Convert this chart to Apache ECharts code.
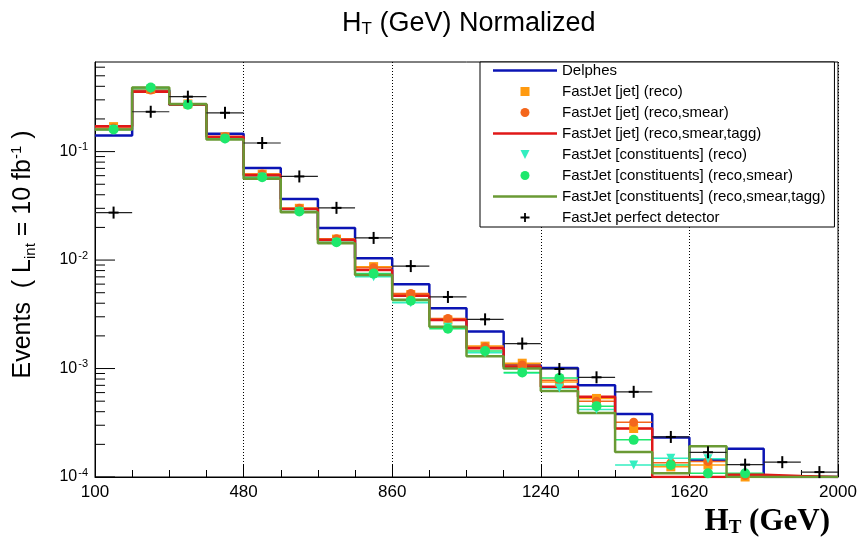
<!DOCTYPE html>
<html>
<head>
<meta charset="utf-8">
<script src="https://cdn.jsdelivr.net/npm/echarts@6/dist/echarts.min.js"></script>
<style>
  html, body { margin: 0; padding: 0; background: #fff; }
  #chart { width: 864px; height: 546px; }
</style>
</head>
<body>
<div id="chart"></div>
<script>
// bin edges of the H_T histogram (20 bins of 95 GeV)
const binEdges = [100, 195, 290, 385, 480, 575, 670, 765, 860, 955, 1050,
  1145, 1240, 1335, 1430, 1525, 1620, 1715, 1810, 1905, 2000];

// values, one per bin (null = not drawn / below 1e-4)
const delphes = [0.141, 0.37, 0.27, 0.146, 0.0706, 0.0365, 0.0198, 0.0104, 0.0060, 0.0036,
  0.0022, 0.00107, 0.00101, 0.00070, 0.00038, 0.000231, 0.000144, 0.000182, 0.0001, 0.0001];
const jetReco = [0.17, 0.375, 0.275, 0.137, 0.062, 0.030, 0.0156, 0.0087, 0.0048, 0.0028,
  0.00161, 0.00112, 0.00075, 0.00053, 0.00028, 0.000124, 0.000129, 0.0001, null, null];
const jetSmear = [0.165, 0.37, 0.275, 0.137, 0.062, 0.030, 0.0157, 0.0085, 0.00492, 0.0029,
  0.00158, 0.00108, 0.00078, 0.0005, 0.00032, 0.000135, 0.000139, 0.000103, null, null];
const jetTagg = [0.171, 0.357, 0.272, 0.137, 0.0604, 0.0296, 0.0153, 0.0081, 0.00468, 0.0028,
  0.00154, 0.00104, 0.00068, 0.00055, 0.00028, 0.0001, 0.0001, 0.000105, 0.000102, 0.0001];
const consReco = [0.16, 0.38, 0.27, 0.13, 0.058, 0.028, 0.0145, 0.0070, 0.00405, 0.0024,
  0.0014, 0.00091, 0.00066, 0.00042, 0.000129, 0.000149, 0.000147, null, null, null];
const consSmear = [0.16, 0.39, 0.27, 0.132, 0.058, 0.028, 0.0146, 0.0075, 0.00421, 0.00233,
  0.00145, 0.00092, 0.00082, 0.00045, 0.00022, 0.000129, 0.000108, 0.000108, null, null];
const consTagg = [0.16, 0.39, 0.274, 0.129, 0.0563, 0.0276, 0.0143, 0.0073, 0.0043, 0.00243,
  0.0013, 0.00100, 0.00062, 0.00039, 0.00017, 0.000108, 0.000192, 0.0001, 0.0001, 0.0001];
const perfect = [0.0274, 0.233, 0.321, 0.228, 0.120, 0.059, 0.0303, 0.016, 0.0088, 0.00457,
  0.00284, 0.0017, 0.00099, 0.00083, 0.00061, 0.000234, 0.000169, 0.00013, 0.000137, 0.000111];

const xLabels = [100, 480, 860, 1240, 1620, 2000];
const yDecades = [0.0001, 0.001, 0.01, 0.1];

const FONT = 'Liberation Sans';
const yMin = 0.0001;
const yMax = 0.67;

// minor ticks of the log axis: 2..9 x 10^n
const yMinor = [];
yDecades.forEach((d) => {
  for (let k = 2; k <= 9; k++) {
    if (k * d < yMax) yMinor.push(+(k * d).toPrecision(3));
  }
});

// histogram outline: two points per bin
const stepData = (vals) => {
  const out = [];
  vals.forEach((v, i) => {
    if (v == null) return;
    out.push([binEdges[i], v], [binEdges[i + 1], v]);
  });
  return out;
};
const centerData = (vals) => vals
  .map((v, i) => (v == null ? null : [(binEdges[i] + binEdges[i + 1]) / 2, v]))
  .filter((d) => d);
const barData = (vals) => vals
  .map((v, i) => (v == null ? null : [binEdges[i], binEdges[i + 1], v]))
  .filter((d) => d);

const lineSeries = (name, vals, color, z) => ({
  name,
  type: 'line',
  data: stepData(vals),
  symbol: 'none',
  z,
  itemStyle: { color },
  lineStyle: { color, width: 2.5 },
});

// horizontal error bar across the bin (ROOT "E" style)
const hbarSeries = (name, vals, color, z) => ({
  name,
  type: 'custom',
  data: barData(vals),
  encode: { x: [0, 1], y: 2 },
  z,
  itemStyle: { color },
  renderItem: (params, api) => {
    const a = api.coord([api.value(0), api.value(2)]);
    const b = api.coord([api.value(1), api.value(2)]);
    return {
      type: 'line',
      shape: { x1: a[0], y1: a[1], x2: b[0], y2: b[1] },
      style: { stroke: color, lineWidth: 1.5 },
    };
  },
});

const markerSeries = (name, vals, color, symbol, size, z) => ({
  name,
  type: 'scatter',
  data: centerData(vals),
  symbol,
  symbolSize: size,
  z,
  itemStyle: { color, opacity: 1 },
});

const squarePath = 'path://M0,0h10v10h-10z';
const triDownPath = 'path://M0,0L10,0L5,10z';
const linePath = 'path://M0,0h64v2.5h-64z';
const plusPath = 'path://M4,0h2v4h4v2h-4v4h-2v-4h-4v-2h4z';

const C = {
  delphes: '#0b14b4',
  jetReco: '#ff9a10',
  jetSmear: '#f4661c',
  jetTagg: '#e01818',
  consReco: '#33eec0',
  consSmear: '#1ee86c',
  consTagg: '#6a9a34',
};

const chart = echarts.init(document.getElementById('chart'));

const option = {
  animation: false,
  backgroundColor: '#fff',
  title: {
    text: '{n|H}{s|T}{n| (GeV) Normalized}',
    left: 337,
    top: 4,
    textStyle: {
      rich: {
        n: { fontFamily: FONT, fontWeight: 'normal', fontSize: 27, color: '#000' },
        s: { fontFamily: FONT, fontWeight: 'normal', fontSize: 17, color: '#000', padding: [12, 0, 0, 0] },
      },
    },
  },
  grid: {
    left: 95,
    right: 26,
    top: 62,
    bottom: 69,
    show: true,
    borderColor: '#000',
    borderWidth: 1,
  },
  legend: {
    orient: 'vertical',
    left: 480,
    top: 62,
    padding: [1, 9, 2, 13],
    backgroundColor: '#fff',
    borderColor: '#000',
    borderWidth: 1,
    itemWidth: 64,
    itemHeight: 9,
    itemGap: 6,
    itemTextGap: 11,
    selectedMode: false,
    textStyle: { fontFamily: FONT, fontSize: 15, color: '#000', lineHeight: 15 },
    data: [
      { name: 'Delphes', icon: linePath },
      { name: 'FastJet [jet] (reco)', icon: squarePath },
      { name: 'FastJet [jet] (reco,smear)', icon: 'circle' },
      { name: 'FastJet [jet] (reco,smear,tagg)', icon: linePath },
      { name: 'FastJet [constituents] (reco)', icon: triDownPath },
      { name: 'FastJet [constituents] (reco,smear)', icon: 'circle' },
      { name: 'FastJet [constituents] (reco,smear,tagg)', icon: linePath },
      { name: 'FastJet perfect detector', icon: plusPath },
    ],
  },
  xAxis: {
    type: 'value',
    min: 100,
    max: 2000,
    interval: 380,
    name: '{b|H}{s|T}{b| (GeV)}',
    nameLocation: 'end',
    nameGap: -8,
    nameTextStyle: {
      align: 'right',
      verticalAlign: 'top',
      padding: [28, 0, 0, 0],
      rich: {
        b: { fontFamily: 'Liberation Serif', fontWeight: 'bold', fontSize: 31, color: '#000' },
        s: { fontFamily: 'Liberation Serif', fontWeight: 'bold', fontSize: 19, color: '#000', padding: [14, 0, 0, 0] },
      },
    },
    axisLine: { show: true, lineStyle: { color: '#000', width: 1 } },
    axisTick: { show: true, inside: true, length: 13, lineStyle: { color: '#000', width: 1 } },
    minorTick: { show: true, splitNumber: 4, length: 7, lineStyle: { color: '#000', width: 1 } },
    axisLabel: {
      margin: 7,
      fontFamily: FONT,
      fontSize: 17,
      color: '#000',
      formatter: (v) => (xLabels.includes(v) ? String(v) : ''),
    },
    splitLine: { show: true, lineStyle: { color: '#000', width: 1, type: [1, 2] } },
  },
  yAxis: {
    type: 'log',
    logBase: 10,
    min: yMin,
    max: yMax,
    name: '{n|Events  ( L}{sub|int}{n| = 10 fb}{sup|-1}{n| )}',
    nameLocation: 'middle',
    nameRotate: 90,
    nameGap: 57,
    nameTextStyle: {
      padding: [0, 0, 0, 30],
      rich: {
        n: { fontFamily: FONT, fontSize: 25, color: '#000' },
        sub: { fontFamily: FONT, fontSize: 15, color: '#000', padding: [15, 0, 0, 0] },
        sup: { fontFamily: FONT, fontSize: 15, color: '#000', padding: [0, 0, 13, 0] },
      },
    },
    axisLine: { show: true, lineStyle: { color: '#000', width: 1 } },
    axisTick: { show: false },
    minorTick: { show: false },
    splitLine: { show: false },
    axisLabel: {
      margin: 7,
      formatter: (v) => {
        const e = Math.log10(v);
        if (Math.abs(e - Math.round(e)) > 1e-6) return '';
        return '{b|10}{s|' + Math.round(e) + '}';
      },
      rich: {
        b: { fontFamily: FONT, fontSize: 16, color: '#000' },
        s: { fontFamily: FONT, fontSize: 11, color: '#000', padding: [0, 0, 9, 1] },
      },
    },
  },
  series: [
    // y axis ticks (decades long, 2..9 short), pointing into the frame
    {
      type: 'custom',
      silent: true,
      z: 1,
      data: yDecades.map((v) => [100, v, 20]).concat(yMinor.map((v) => [100, v, 10])),
      encode: { x: 0, y: 1 },
      renderItem: (params, api) => {
        const p = api.coord([api.value(0), api.value(1)]);
        return {
          type: 'line',
          shape: { x1: p[0], y1: p[1], x2: p[0] + api.value(2), y2: p[1] },
          style: { stroke: '#000', lineWidth: 1 },
        };
      },
    },
    lineSeries('Delphes', delphes, C.delphes, 3),
    markerSeries('FastJet [jet] (reco)', jetReco, C.jetReco, 'rect', 9, 10),
    hbarSeries('FastJet [jet] (reco)', jetReco, C.jetReco, 4),
    markerSeries('FastJet [jet] (reco,smear)', jetSmear, C.jetSmear, 'circle', 9, 10),
    hbarSeries('FastJet [jet] (reco,smear)', jetSmear, C.jetSmear, 4),
    lineSeries('FastJet [jet] (reco,smear,tagg)', jetTagg, C.jetTagg, 5),
    markerSeries('FastJet [constituents] (reco)', consReco, C.consReco, triDownPath, 9, 11),
    hbarSeries('FastJet [constituents] (reco)', consReco, C.consReco, 4),
    markerSeries('FastJet [constituents] (reco,smear)', consSmear, C.consSmear, 'circle', 10, 12),
    hbarSeries('FastJet [constituents] (reco,smear)', consSmear, C.consSmear, 4),
    lineSeries('FastJet [constituents] (reco,smear,tagg)', consTagg, C.consTagg, 6),
    {
      name: 'FastJet perfect detector',
      type: 'custom',
      data: barData(perfect),
      encode: { x: [0, 1], y: 2 },
      z: 13,
      itemStyle: { color: '#000' },
      renderItem: (params, api) => {
        const a = api.coord([api.value(0), api.value(2)]);
        const b = api.coord([api.value(1), api.value(2)]);
        const cx = (a[0] + b[0]) / 2;
        return {
          type: 'group',
          children: [
            { type: 'line', shape: { x1: a[0], y1: a[1], x2: b[0], y2: b[1] }, style: { stroke: '#222', lineWidth: 1.2 } },
            { type: 'line', shape: { x1: cx - 5, y1: a[1], x2: cx + 5, y2: a[1] }, style: { stroke: '#000', lineWidth: 2 } },
            { type: 'line', shape: { x1: cx, y1: a[1] - 6, x2: cx, y2: a[1] + 6 }, style: { stroke: '#000', lineWidth: 2 } },
          ],
        };
      },
    },
  ],
};

chart.setOption(option);
</script>
</body>
</html>
